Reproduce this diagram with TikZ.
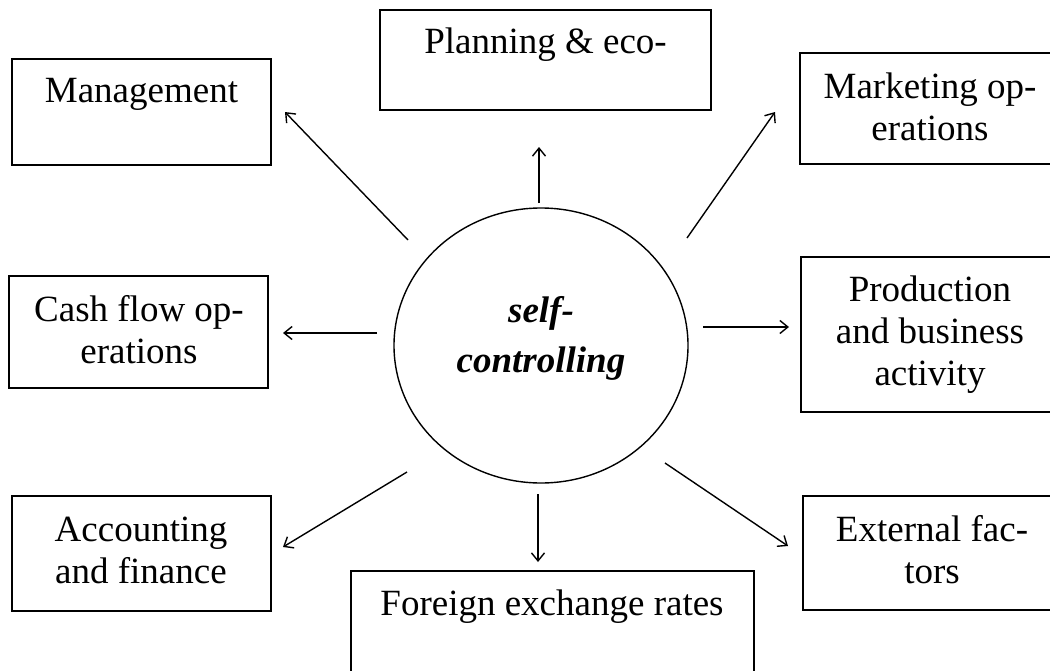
\documentclass[tikz,border=0pt]{standalone}
\usepackage{fontspec}
\setmainfont{Liberation Serif}
\usetikzlibrary{arrows.meta,shapes.geometric}
\tikzset{
  boxnode/.style={draw=black, line width=1.3pt, rectangle, inner sep=0pt, fill=none},
  txt/.style={anchor=base, align=center, inner sep=0pt, font=\fontsize{37}{42}\selectfont},
  ctxt/.style={anchor=base, align=center, inner sep=0pt, font=\fontsize{37}{50}\selectfont\bfseries\itshape},
  ring/.style={draw=black, line width=1.4pt, ellipse, inner sep=0pt},
  arr/.style={line width=1.4pt, -{Straight Barb[length=8pt,width=13pt,line width=1.4pt]}}
}
\begin{document}
\begin{tikzpicture}[x=1pt,y=-1pt]
\useasboundingbox (0,0) rectangle (1050,670);
\clip (0,0) rectangle (1050,670);
\fill[white] (0,0) rectangle (1050,670);
% boxes
\node[boxnode, minimum width=259pt, minimum height=106pt] (mgmt) at (141.5,112) {};
\node[boxnode, minimum width=331pt, minimum height=100pt] (plan) at (545.5,60) {};
\node[boxnode, minimum width=260pt, minimum height=111pt] (mark) at (930,108.5) {};
\node[boxnode, minimum width=259pt, minimum height=112pt] (cash) at (138.5,332) {};
\node[boxnode, minimum width=259pt, minimum height=155pt] (prod) at (930.5,334.5) {};
\node[boxnode, minimum width=259pt, minimum height=115pt] (acct) at (141.5,553.5) {};
\node[boxnode, minimum width=403pt, minimum height=129pt] (fore) at (552.5,635.5) {};
\node[boxnode, minimum width=257pt, minimum height=114pt] (extf) at (931.5,553) {};
% centre
\node[ring, minimum width=294pt, minimum height=275pt] (sc) at (541,345.5) {};
% texts (base anchor = baseline of the last line)
\node[txt] (mgmt-t) at (141.5,102) {Management};
\node[txt] (plan-t) at (545.5,53) {Planning \& eco-};
\node[txt] (mark-t) at (930,140) {Marketing op-\\erations};
\node[txt] (cash-t) at (139,363) {Cash flow op-\\erations};
\node[txt] (prod-t) at (930,385) {Production\\and business\\activity};
\node[txt] (acct-t) at (141,583) {Accounting\\and finance};
\node[txt] (fore-t) at (552,615) {Foreign exchange rates};
\node[txt] (extf-t) at (932,583) {External fac-\\tors};
\node[ctxt] (sc-t) at (541,372) {self-\\controlling};
% arrow end points
\coordinate (a1s) at (408,240); \coordinate (a1e) at (285,112);
\coordinate (a2s) at (539,203); \coordinate (a2e) at (539,147);
\coordinate (a3s) at (687,238); \coordinate (a3e) at (775,112);
\coordinate (a4s) at (377,333); \coordinate (a4e) at (283,333);
\coordinate (a5s) at (703,327); \coordinate (a5e) at (789,327);
\coordinate (a6s) at (407,472); \coordinate (a6e) at (283,547);
\coordinate (a7s) at (538,494); \coordinate (a7e) at (538,562);
\coordinate (a8s) at (665,463); \coordinate (a8e) at (788,546);
\draw[arr] (a1s) -- (a1e);
\draw[arr] (a2s) -- (a2e);
\draw[arr] (a3s) -- (a3e);
\draw[arr] (a4s) -- (a4e);
\draw[arr] (a5s) -- (a5e);
\draw[arr] (a6s) -- (a6e);
\draw[arr] (a7s) -- (a7e);
\draw[arr] (a8s) -- (a8e);
\end{tikzpicture}
\end{document}
